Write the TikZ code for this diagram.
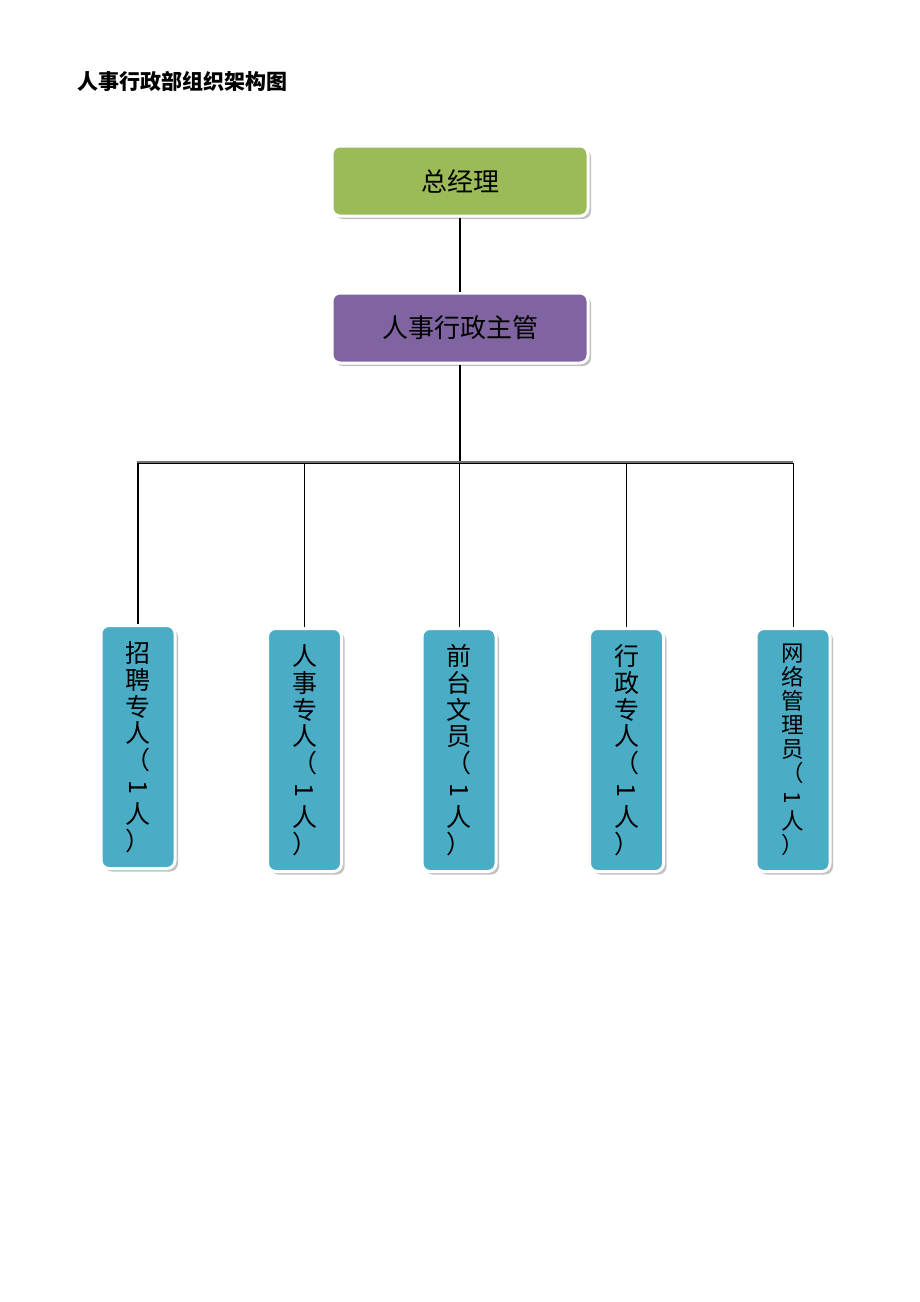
\documentclass[tikz,border=0pt]{standalone}
\usepackage{fontspec}
\usepackage{graphicx}
\setmainfont{Noto Sans CJK SC}
\usetikzlibrary{shadows}
\definecolor{gmgreen}{HTML}{9BBB59}
\definecolor{mgrpurple}{HTML}{8064A2}
\definecolor{staffblue}{HTML}{4BACC6}
\newcommand{\rone}{\rotatebox[origin=c]{-90}{1}}
\tikzset{
  orgbox/.style={draw=white, line width=3pt, rounded corners=8pt, inner sep=0pt,
    drop shadow={shadow xshift=3pt, shadow yshift=-3pt, fill=black!40, opacity=0.6}},
  topbox/.style={orgbox, minimum width=256pt, minimum height=70pt, font=\fontsize{26}{30}\selectfont},
  staffbox/.style={orgbox, fill=staffblue, minimum width=74pt, minimum height=243pt,
    align=center, font=\fontsize{25}{26.8}\selectfont},
  smallstaff/.style={font=\fontsize{22.5}{24}\selectfont},
  conn/.style={draw=black, line width=1pt}
}
\begin{document}
\begin{tikzpicture}[x=1pt,y=-1pt]
\useasboundingbox[fill=white] (0,0) rectangle (920,1302);
\node[anchor=west, font=\fontsize{21}{24}\selectfont\bfseries] (title) at (74,81) {人事行政部组织架构图};
\node[topbox, fill=gmgreen] (gm) at (460,181) {总经理};
\node[topbox, fill=mgrpurple] (mgr) at (460,328) {人事行政主管};
\node[staffbox] (b1) at (138,747) {招\\聘\\专\\人\\（\\\rone\\人\\）};
\node[staffbox] (b2) at (304.5,750) {人\\事\\专\\人\\（\\\rone\\人\\）};
\node[staffbox] (b3) at (459,750) {前\\台\\文\\员\\（\\\rone\\人\\）};
\node[staffbox] (b4) at (626.5,750) {行\\政\\专\\人\\（\\\rone\\人\\）};
\node[staffbox, smallstaff] (b5) at (793,750) {网\\络\\管\\理\\员\\（\\\rone\\人\\）};
\coordinate (busL) at (137,463);
\coordinate (busR) at (793,463);
\draw[conn, line width=1.5pt] (gm.south) -- (mgr.north);
\draw[conn, line width=1.5pt] (mgr.south) -- (mgr.south |- busL);
\draw[black!55, line width=1.2pt] ([yshift=1pt]busL) -- ([yshift=1pt]busR);
\draw[conn, line width=0.8pt] ([yshift=-0.6pt]busL) -- ([yshift=-0.6pt]busR);
\draw[conn, line width=1.5pt] (b1.north) -- (b1.north |- busL);
\draw[conn] (b2.north) -- (b2.north |- busL);
\draw[conn] (b3.north) -- (b3.north |- busL);
\draw[conn] (b4.north) -- (b4.north |- busL);
\draw[conn] (b5.north) -- (b5.north |- busL);
\end{tikzpicture}
\end{document}
